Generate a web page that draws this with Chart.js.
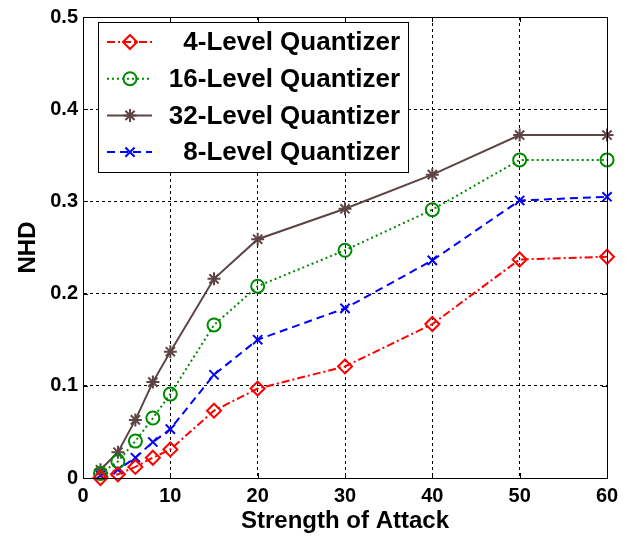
<!DOCTYPE html>
<html>
<head>
<meta charset="utf-8">
<script src="https://cdn.jsdelivr.net/npm/chart.js@4.4.1/dist/chart.umd.min.js"></script>
<style>
  body { margin: 0; background: #fff; }
  canvas { display: block; }
</style>
</head>
<body>
<canvas id="grafico" width="636" height="538"></canvas>
<script>
// datos de la figura
var fuerzaAtaque = [2, 4, 6, 8, 10, 15, 20, 30, 40, 50, 60];
var nivel4  = [0.000, 0.004, 0.012, 0.022, 0.031, 0.073, 0.097, 0.121, 0.167, 0.237, 0.240];
var nivel16 = [0.005, 0.018, 0.040, 0.065, 0.091, 0.166, 0.208, 0.247, 0.291, 0.345, 0.345];
var nivel32 = [0.009, 0.028, 0.063, 0.104, 0.137, 0.216, 0.259, 0.292, 0.329, 0.372, 0.372];
var nivel8  = [0.003, 0.009, 0.022, 0.039, 0.053, 0.112, 0.150, 0.184, 0.236, 0.301, 0.305];
var series  = ["4-Level Quantizer", "16-Level Quantizer", "32-Level Quantizer", "8-Level Quantizer"];
var xTicks  = [0, 10, 20, 30, 40, 50, 60];
var yTicks  = [0, 0.1, 0.2, 0.3, 0.4, 0.5];

var fuente = "'Liberation Sans', Arial, sans-serif";

function puntos(valores) {
    return fuerzaAtaque.map(function(x, i) { return { x: x, y: valores[i] }; });
}

function serie(nombre, valores, color, dash, estilo, radio) {
    return {
        label: nombre,
        data: puntos(valores),
        borderColor: color,
        borderWidth: 2,
        borderDash: dash,
        pointStyle: estilo,
        pointRadius: radio,
        pointBorderColor: color,
        pointBackgroundColor: 'rgba(0,0,0,0)',
        pointBorderWidth: 2,
        tension: 0,
        fill: false,
        clip: false
    };
}

// caja del grafico, marcas interiores y leyenda dentro del area
var cajaMatlab = {
    id: 'cajaMatlab',
    afterDatasetsDraw: function(chart) {
        var ctx = chart.ctx;
        var a = chart.chartArea;
        var sx = chart.scales.x, sy = chart.scales.y;
        ctx.save();
        ctx.strokeStyle = '#000';
        ctx.lineWidth = 1;
        ctx.setLineDash([]);
        ctx.beginPath();
        xTicks.forEach(function(v) {
            var px = Math.round(sx.getPixelForValue(v)) + 0.5;
            ctx.moveTo(px, a.top); ctx.lineTo(px, a.top + 5);
            ctx.moveTo(px, a.bottom); ctx.lineTo(px, a.bottom - 5);
        });
        yTicks.forEach(function(v) {
            var py = Math.round(sy.getPixelForValue(v)) + 0.5;
            ctx.moveTo(a.left, py); ctx.lineTo(a.left + 5, py);
            ctx.moveTo(a.right, py); ctx.lineTo(a.right - 5, py);
        });
        ctx.stroke();
        ctx.strokeRect(Math.round(a.left) + 0.5, Math.round(a.top) + 0.5,
                       Math.round(a.right - a.left), Math.round(a.bottom - a.top));

        // leyenda
        var lx = 98, ly = 22, lw = 310, lh = 150;
        ctx.fillStyle = '#fff';
        ctx.fillRect(lx, ly, lw, lh);
        ctx.strokeRect(lx + 0.5, ly + 0.5, lw, lh);
        ctx.font = 'bold 26px ' + fuente;
        ctx.textAlign = 'right';
        ctx.textBaseline = 'middle';
        chart.data.datasets.forEach(function(ds, i) {
            var y = 42 + i * 36.7;
            ctx.strokeStyle = ds.borderColor;
            ctx.lineWidth = ds.borderWidth;
            ctx.setLineDash(ds.borderDash);
            ctx.beginPath();
            ctx.moveTo(107, y); ctx.lineTo(152, y);
            ctx.stroke();
            ctx.setLineDash([]);
            ctx.fillStyle = 'rgba(0,0,0,0)';
            ctx.lineWidth = ds.pointBorderWidth;
            Chart.helpers.drawPoint(ctx, {
                pointStyle: ds.pointStyle,
                radius: ds.pointRadius,
                borderWidth: ds.pointBorderWidth,
                rotation: 0
            }, 130, y);
            ctx.fillStyle = '#000';
            ctx.fillText(ds.label, 400, y + 1);
        });
        ctx.restore();
    }
};

var canvas = document.getElementById('grafico').getContext('2d');
window.grafico = new Chart(canvas, {
    type: 'line',
    data: {
        datasets: [
            serie(series[0], nivel4,  '#ff0000', [8, 3, 2, 3], 'rectRot', 7),
            serie(series[1], nivel16, '#008a00', [2, 3], 'circle', 6.5),
            serie(series[2], nivel32, '#5e4444', [], 'star', 6.5),
            serie(series[3], nivel8,  '#0000ff', [8, 5], 'crossRot', 6.5)
        ]
    },
    options: {
        responsive: false,
        animation: false,
        layout: { padding: { top: 13, right: 29, left: 0, bottom: 0 } },
        plugins: {
            legend: { display: false },
            tooltip: { enabled: false }
        },
        scales: {
            x: {
                type: 'linear',
                min: 0,
                max: 60,
                afterBuildTicks: function(scale) {
                    scale.ticks = xTicks.map(function(v) { return { value: v }; });
                },
                afterFit: function(scale) { scale.height = 60; },
                ticks: {
                    color: '#000',
                    padding: 6,
                    maxRotation: 0,
                    font: { family: fuente, size: 20, weight: 'bold' }
                },
                grid: { color: '#000', lineWidth: 1, drawTicks: false },
                border: { color: '#000', dash: [3, 3] },
                title: {
                    display: true,
                    text: 'Strength of Attack',
                    color: '#000',
                    padding: { top: 0, bottom: 2 },
                    font: { family: fuente, size: 24, weight: 'bold' }
                }
            },
            y: {
                min: 0,
                max: 0.5,
                afterBuildTicks: function(scale) {
                    scale.ticks = yTicks.map(function(v) { return { value: v }; });
                },
                afterFit: function(scale) { scale.width = 83; },
                ticks: {
                    color: '#000',
                    padding: 5,
                    font: { family: fuente, size: 20, weight: 'bold' },
                    callback: function(v) { return String(Number(v.toFixed(1))); }
                },
                grid: { color: '#000', lineWidth: 1, drawTicks: false },
                border: { color: '#000', dash: [3, 3] },
                title: {
                    display: true,
                    text: 'NHD',
                    color: '#000',
                    padding: { top: 14, bottom: 0 },
                    font: { family: fuente, size: 24, weight: 'bold' }
                }
            }
        }
    },
    plugins: [cajaMatlab]
});
</script>
</body>
</html>
